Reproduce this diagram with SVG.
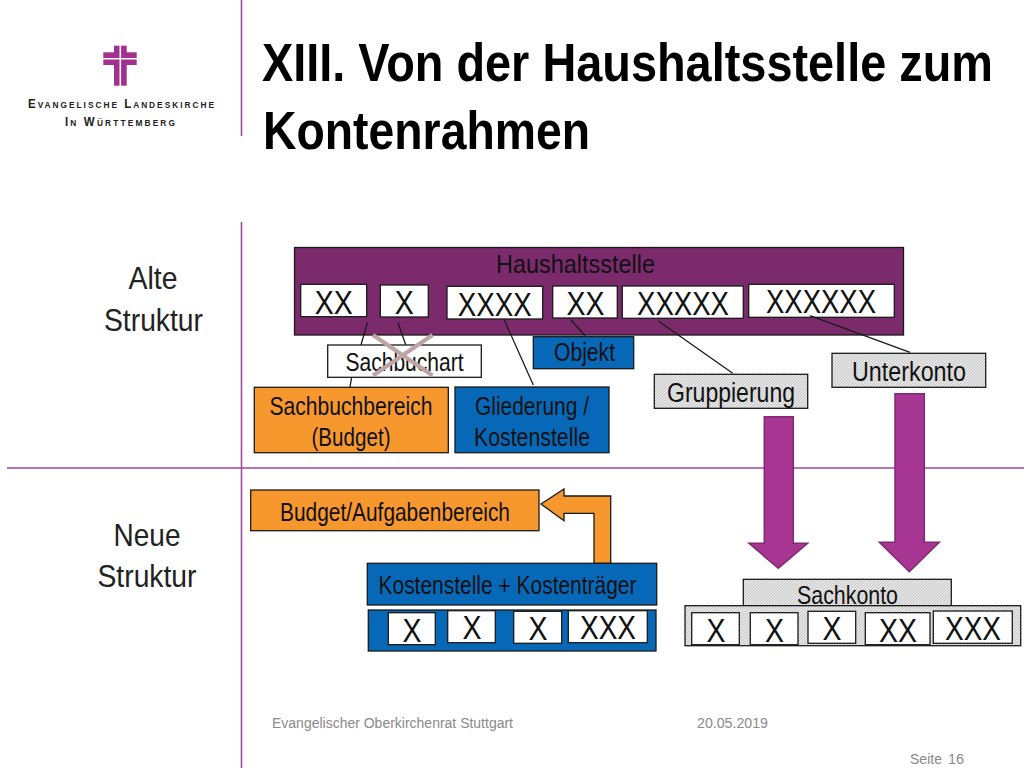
<svg xmlns="http://www.w3.org/2000/svg" width="1024" height="768" viewBox="0 0 1024 768">
<style>
text{font-family:"Liberation Sans",Arial,sans-serif;fill:#111;text-anchor:middle}
.title{font-size:46px;font-weight:bold;text-anchor:start;fill:#000}
.side{font-size:32px;fill:#222}
.lbl{font-size:25px}
.big{font-size:27px}
.x{font-size:34px}
.logo{font-size:11.500px;font-weight:bold;font-variant:small-caps;text-anchor:start;fill:#222}
.foot{font-size:15.500px;fill:#8a8a8a;text-anchor:start}
.rule{stroke:#a5479b;stroke-width:1.6;fill:none}
.box{stroke:#1a1a1a;stroke-width:1.3}
.white{fill:#fff}
.plum{fill:#7b2a6c}
.orange{fill:#f7982f}
.blue{fill:#0868b8}
.hatch{fill:url(#h)}
.link{stroke:#1a1a1a;stroke-width:1.3;fill:none}
.down{fill:#a73692;stroke:#7f2a70;stroke-width:1.500}
</style>
<defs>
<pattern id="h" width="3" height="3" patternUnits="userSpaceOnUse"><rect width="3" height="3" fill="#e6e6e6"/><path d="M0 3L3 0" stroke="#bdbdbd" stroke-width="0.8"/></pattern>
</defs>
<rect width="1024" height="768" fill="#fff"/>
<g id="rules">
<path class="rule" d="M241.500 0V136M241.500 222V768M7 468H1024"/>
</g>
<g id="logo">
<rect x="114" y="45.700" width="12.700" height="40" fill="#a2308f"/>
<rect x="103.300" y="52.300" width="33.400" height="12.700" fill="#a2308f"/>
<path d="M120.300 45V86M103 58.700H137" stroke="#fff" stroke-width="1.600"/>
<text class="logo" transform="translate(28 108) scale(1 1.160)" textLength="186" lengthAdjust="spacing">Evangelische Landeskirche</text>
<text class="logo" transform="translate(65 126) scale(1 1.160)" textLength="110" lengthAdjust="spacing">In Württemberg</text>
</g>
<g id="title">
<text class="title" transform="translate(262 81) scale(1 1.170)" textLength="731" lengthAdjust="spacingAndGlyphs">XIII. Von der Haushaltsstelle zum</text>
<text class="title" transform="translate(263 149) scale(1 1.170)" textLength="327" lengthAdjust="spacingAndGlyphs">Kontenrahmen</text>
</g>
<g id="labels">
<text class="side" x="153" y="289" textLength="49" lengthAdjust="spacingAndGlyphs">Alte</text>
<text class="side" x="153.500" y="331" textLength="99" lengthAdjust="spacingAndGlyphs">Struktur</text>
<text class="side" x="147" y="546" textLength="67" lengthAdjust="spacingAndGlyphs">Neue</text>
<text class="side" x="147" y="587" textLength="99" lengthAdjust="spacingAndGlyphs">Struktur</text>
</g>
<g id="haushaltsstelle">
<rect class="box plum" x="294.500" y="247.500" width="609" height="87.500"/>
<text class="lbl" x="575.500" y="273" textLength="159" lengthAdjust="spacingAndGlyphs">Haushaltsstelle</text>
<rect class="box white" x="300.700" y="284.300" width="66" height="32.400"/>
<text class="x" x="333.700" y="313.500" textLength="38" lengthAdjust="spacingAndGlyphs">XX</text>
<rect class="box white" x="380.300" y="285" width="48" height="32"/>
<text class="x" x="404.300" y="313.500" textLength="19" lengthAdjust="spacingAndGlyphs">X</text>
<rect class="box white" x="447" y="286.300" width="95.700" height="32.700"/>
<text class="x" x="494.800" y="315.500" textLength="74" lengthAdjust="spacingAndGlyphs">XXXX</text>
<rect class="box white" x="552.700" y="286" width="64.600" height="32"/>
<text class="x" x="585.500" y="315" textLength="38" lengthAdjust="spacingAndGlyphs">XX</text>
<rect class="box white" x="622.300" y="286" width="121" height="32.300"/>
<text class="x" x="683" y="315" textLength="92" lengthAdjust="spacingAndGlyphs">XXXXX</text>
<rect class="box white" x="748.700" y="284.300" width="145.600" height="33"/>
<text class="x" x="821" y="313" textLength="110" lengthAdjust="spacingAndGlyphs">XXXXXX</text>
</g>
<g id="connectors">
<path class="link" d="M367.300 322.700L361 345M351.700 377L350 387M398 322.700L405.700 344.700M504 319.300L533.300 385M571 320L585 335.700M658.300 321L732.700 373.300M810 315.700L910 352.300"/>
</g>
<g id="sachbuchart">
<rect class="box white" x="327.700" y="345" width="153.600" height="32.300"/>
<text class="lbl" x="404.500" y="371" textLength="118" lengthAdjust="spacingAndGlyphs">Sachbuchart</text>
<path d="M373 335L432.500 375.500M432.500 335L373 375.500" stroke="#bfa4a6" stroke-width="4" fill="none"/>
</g>
<g id="objekt">
<rect class="box blue" x="533.300" y="336.700" width="100.400" height="32"/>
<text class="lbl" x="584.500" y="361" textLength="61" lengthAdjust="spacingAndGlyphs">Objekt</text>
</g>
<g id="sachbuchbereich">
<rect class="box orange" x="254.300" y="387.300" width="194" height="65.400"/>
<text class="lbl" x="351" y="415" textLength="163" lengthAdjust="spacingAndGlyphs">Sachbuchbereich</text>
<text class="lbl" x="351" y="446" textLength="79" lengthAdjust="spacingAndGlyphs">(Budget)</text>
</g>
<g id="gliederung">
<rect class="box blue" x="455" y="387" width="154" height="65.700"/>
<text class="lbl" x="532" y="415" textLength="114" lengthAdjust="spacingAndGlyphs">Gliederung /</text>
<text class="lbl" x="532" y="446" textLength="116" lengthAdjust="spacingAndGlyphs">Kostenstelle</text>
</g>
<g id="gruppierung">
<rect class="box hatch" x="654.300" y="374.300" width="153.400" height="34"/>
<text class="big" x="731" y="402" textLength="128" lengthAdjust="spacingAndGlyphs">Gruppierung</text>
</g>
<g id="unterkonto">
<rect class="box hatch" x="832" y="353.300" width="153.700" height="34"/>
<text class="big" x="909" y="381" textLength="114" lengthAdjust="spacingAndGlyphs">Unterkonto</text>
</g>
<g id="arrows">
<path class="down" d="M764.300 416.700H793.300V543.300H807.700L778.300 568.300L749 543.300H764.300Z"/>
<path class="down" d="M895 393.700H924.300V542.300H939.300L909.300 571.700L879.300 542.300H895Z"/>
<path class="box orange" d="M541 504L564 489V496H610.700V563.300H594V513.300H564V520.700Z"/>
</g>
<g id="budget">
<rect class="box orange" x="250.700" y="490" width="288.300" height="40.700"/>
<text class="lbl" x="395" y="521" textLength="230" lengthAdjust="spacingAndGlyphs">Budget/Aufgabenbereich</text>
</g>
<g id="kostenstelle">
<rect class="box blue" x="367.300" y="563.300" width="289.400" height="41.700"/>
<text class="lbl" x="507.500" y="594" textLength="258" lengthAdjust="spacingAndGlyphs">Kostenstelle + Kostenträger</text>
<rect class="box blue" x="368.300" y="610" width="287.700" height="41"/>
<rect class="box white" x="388.300" y="612.700" width="47" height="32"/>
<text class="x" x="412" y="642" textLength="19" lengthAdjust="spacingAndGlyphs">X</text>
<rect class="box white" x="447.700" y="610.700" width="47.600" height="32"/>
<text class="x" x="472" y="639" textLength="19" lengthAdjust="spacingAndGlyphs">X</text>
<rect class="box white" x="513.700" y="611.300" width="48" height="32"/>
<text class="x" x="538" y="640" textLength="19" lengthAdjust="spacingAndGlyphs">X</text>
<rect class="box white" x="568.300" y="610.700" width="79" height="32"/>
<text class="x" x="608" y="639" textLength="56" lengthAdjust="spacingAndGlyphs">XXX</text>
</g>
<g id="sachkonto">
<rect class="box hatch" x="743.300" y="579.300" width="208" height="26.400"/>
<text class="lbl" x="847.500" y="604" textLength="101" lengthAdjust="spacingAndGlyphs">Sachkonto</text>
<rect class="box hatch" x="685" y="605.700" width="335.700" height="40"/>
<rect class="box white" x="691.700" y="612.700" width="47.600" height="32"/>
<text class="x" x="716" y="642" textLength="19" lengthAdjust="spacingAndGlyphs">X</text>
<rect class="box white" x="750.300" y="612.700" width="47.700" height="32"/>
<text class="x" x="774.500" y="642" textLength="19" lengthAdjust="spacingAndGlyphs">X</text>
<rect class="box white" x="808" y="611.300" width="47.700" height="32"/>
<text class="x" x="832" y="640" textLength="19" lengthAdjust="spacingAndGlyphs">X</text>
<rect class="box white" x="865.300" y="612.700" width="64.700" height="32"/>
<text class="x" x="898" y="642" textLength="38" lengthAdjust="spacingAndGlyphs">XX</text>
<rect class="box white" x="933.300" y="611" width="79" height="32.300"/>
<text class="x" x="973" y="640" textLength="56" lengthAdjust="spacingAndGlyphs">XXX</text>
</g>
<g id="footer">
<text class="foot" x="272" y="728" textLength="241" lengthAdjust="spacingAndGlyphs">Evangelischer Oberkirchenrat Stuttgart</text>
<text class="foot" x="697" y="728" textLength="71" lengthAdjust="spacingAndGlyphs">20.05.2019</text>
<text class="foot" x="910" y="764" textLength="32" lengthAdjust="spacingAndGlyphs">Seite</text>
<text class="foot" x="948" y="764" textLength="16" lengthAdjust="spacingAndGlyphs">16</text>
</g>
</svg>
